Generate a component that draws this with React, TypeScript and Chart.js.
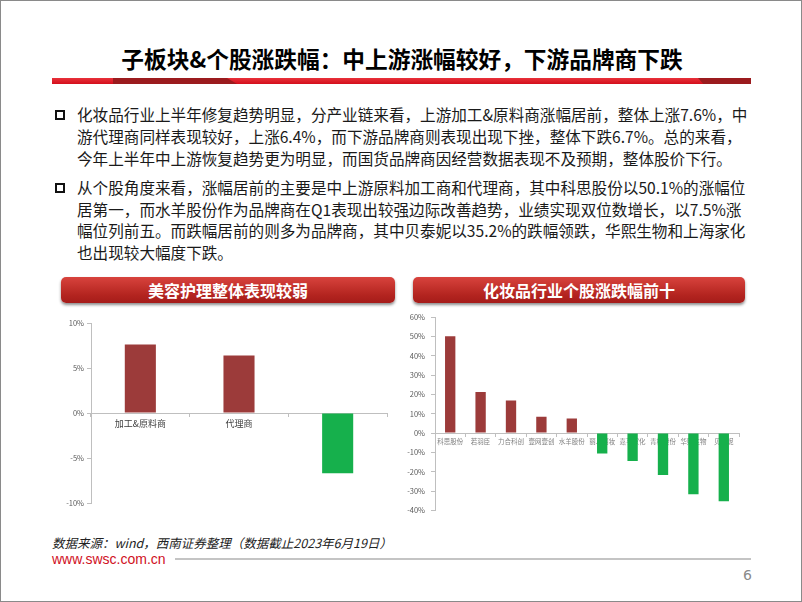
import React, { useEffect, useRef } from "react";
import { Chart, registerables } from "chart.js";

Chart.register(...registerables);

// ---- Data ----
const sectorLabels = ["加工&原料商", "代理商", "品牌商"];
const sectorValues = [7.6, 6.4, -6.7];

const stockLabels = [
  "科思股份",
  "若羽臣",
  "力合科创",
  "壹网壹创",
  "水羊股份",
  "丽人丽妆",
  "嘉亨家化",
  "青松股份",
  "华熙生物",
  "贝泰妮",
];
const stockValues = [50.1, 21.3, 16.8, 8.4, 7.5, -10.5, -14.4, -21.6, -31.6, -35.2];

const sectorTickRange = { min: -10, max: 10, step: 5 };
const stockTickRange = { min: -40, max: 60, step: 10 };

const para1Lines = [
  "化妆品行业上半年修复趋势明显，分产业链来看，上游加工&原料商涨幅居前，整体上涨7.6%，中",
  "游代理商同样表现较好，上涨6.4%，而下游品牌商则表现出现下挫，整体下跌6.7%。总的来看，",
  "今年上半年中上游恢复趋势更为明显，而国货品牌商因经营数据表现不及预期，整体股价下行。",
];
const para2Lines = [
  "从个股角度来看，涨幅居前的主要是中上游原料加工商和代理商，其中科思股份以50.1%的涨幅位",
  "居第一，而水羊股份作为品牌商在Q1表现出较强边际改善趋势，业绩实现双位数增长，以7.5%涨",
  "幅位列前五。而跌幅居前的则多为品牌商，其中贝泰妮以35.2%的跌幅领跌，华熙生物和上海家化",
  "也出现较大幅度下跌。",
];

const RED = "#9c3b3a";
const GREEN = "#16b04c";
const AXIS = "#bfbfbf";
const FONT = "'Noto Sans CJK SC', 'Noto Sans', sans-serif";

function makeConfig(
  labels: string[],
  values: number[],
  range: { min: number; max: number; step: number },
  opts: {
    barPct: number;
    padding: { top: number; bottom: number; left: number; right: number };
    yWidth: number;
    xFont: number;
    xColor: string;
    xZ: number;
    xPad: number;
    yPad: number;
  }
): any {
  return {
    type: "bar",
    data: {
      labels,
      datasets: [
        {
          data: values,
          backgroundColor: values.map((v) => (v >= 0 ? RED : GREEN)),
          barPercentage: opts.barPct,
          categoryPercentage: 1,
        },
      ],
    },
    options: {
      animation: false,
      responsive: false,
      maintainAspectRatio: false,
      devicePixelRatio: 1,
      layout: { padding: opts.padding },
      plugins: { legend: { display: false }, tooltip: { enabled: false } },
      scales: {
        x: {
          position: { y: 0 },
          z: opts.xZ,
          offset: true,
          grid: {
            display: true,
            offset: true,
            drawOnChartArea: false,
            drawTicks: true,
            tickLength: 3,
            color: AXIS,
          },
          border: { color: AXIS, width: 1 },
          ticks: {
            color: opts.xColor,
            font: { size: opts.xFont, family: FONT },
            padding: opts.xPad,
            maxRotation: 0,
            minRotation: 0,
            autoSkip: false,
          },
        },
        y: {
          min: range.min,
          max: range.max,
          afterFit: (s: any) => {
            s.width = opts.yWidth;
          },
          grid: {
            display: true,
            drawOnChartArea: false,
            drawTicks: true,
            tickLength: 4,
            color: AXIS,
          },
          border: { color: AXIS, width: 1 },
          ticks: {
            stepSize: range.step,
            color: "#595959",
            font: { size: 7.5, family: FONT },
            padding: opts.yPad,
            callback: (v: any) => `${v}%`,
          },
        },
      },
    },
  };
}

function BarChart(props: {
  config: any;
  left: number;
  top: number;
  width: number;
  height: number;
}) {
  const ref = useRef<HTMLCanvasElement | null>(null);
  useEffect(() => {
    if (!ref.current) return;
    const chart = new Chart(ref.current, props.config);
    return () => chart.destroy();
  }, []);
  return (
    <canvas
      ref={ref}
      width={props.width}
      height={props.height}
      style={{
        position: "absolute",
        left: props.left,
        top: props.top,
        width: props.width,
        height: props.height,
      }}
    />
  );
}

function Banner(props: { left: number; width: number; text: string }) {
  return (
    <div
      style={{
        position: "absolute",
        left: props.left,
        top: 276,
        width: props.width,
        height: 26,
        borderRadius: 5,
        background: "linear-gradient(#d8433d, #b3241f 70%, #a51c1a)",
        boxShadow: "0 2px 3px rgba(0,0,0,0.45)",
        color: "#fff",
        fontFamily: FONT,
        fontWeight: 700,
        fontSize: 16,
        lineHeight: "26px",
        textAlign: "center",
        whiteSpace: "nowrap",
      }}
    >
      {props.text}
    </div>
  );
}

function Bullet(props: { top: number }) {
  return (
    <div
      style={{
        position: "absolute",
        left: 54,
        top: props.top,
        width: 6,
        height: 6,
        border: "2px solid #111",
      }}
    />
  );
}

export default function App() {
  const leftConfig = makeConfig(sectorLabels, sectorValues, sectorTickRange, {
    barPct: 0.315,
    padding: { top: 12, bottom: 8, left: 0, right: 9 },
    yWidth: 40,
    xFont: 9,
    xColor: "#404040",
    xZ: 1,
    xPad: 2,
    yPad: 3,
  });
  const rightConfig = makeConfig(stockLabels, stockValues, stockTickRange, {
    barPct: 0.34,
    padding: { top: 12, bottom: 10, left: 0, right: 10 },
    yWidth: 38,
    xFont: 6.5,
    xColor: "#7f7f7f",
    xZ: 0,
    xPad: 2,
    yPad: 6,
  });

  const textLine = (t: string, top: number) => (
    <div
      key={t}
      style={{
        position: "absolute",
        left: 76,
        top: top - 11,
        height: 22,
        lineHeight: "22px",
        fontSize: 15.6,
        fontFamily: FONT,
        color: "#1a1a1a",
        whiteSpace: "nowrap",
      }}
    >
      {t}
    </div>
  );

  return (
    <div
      style={{
        position: "fixed",
        left: 0,
        top: 0,
        width: 802,
        height: 602,
        boxSizing: "border-box",
        border: "1px solid #8a8a8a",
        background: "#fff",
        overflow: "hidden",
      }}
    >
      {/* Title */}
      <div
        style={{
          position: "absolute",
          left: 0,
          width: 802,
          top: 44,
          height: 28,
          lineHeight: "28px",
          textAlign: "center",
          fontFamily: FONT,
          fontWeight: 700,
          fontSize: 22.7,
          color: "#000",
          whiteSpace: "nowrap",
        }}
      >
        子板块&个股涨跌幅：中上游涨幅较好，下游品牌商下跌
      </div>
      {/* Red rule */}
      <div
        style={{
          position: "absolute",
          left: 51,
          top: 77,
          width: 699,
          height: 6,
          background: "linear-gradient(#e8313a, #d30e1c)",
        }}
      />
      <div
        style={{
          position: "absolute",
          left: 112,
          top: 77,
          width: 124,
          height: 6,
          background: "#9b1b1e",
          clipPath: "polygon(0 0, 92% 0, 100% 100%, 0 100%)",
        }}
      />
      <div
        style={{
          position: "absolute",
          left: 697,
          top: 77,
          width: 53,
          height: 6,
          background: "#9b1b1e",
          clipPath: "polygon(0 0, 100% 0, 100% 100%, 10% 100%)",
        }}
      />

      {/* Body text */}
      <Bullet top={109} />
      {para1Lines.map((t, i) => textLine(t, 113 + i * 22))}
      <Bullet top={182} />
      {para2Lines.map((t, i) => textLine(t, 186 + i * 21.7))}

      {/* Banners */}
      <Banner left={60} width={334} text="美容护理整体表现较弱" />
      <Banner left={412} width={332} text="化妆品行业个股涨跌幅前十" />

      {/* Charts */}
      <BarChart config={leftConfig} left={50} top={310} width={345} height={200} />
      <BarChart config={rightConfig} left={396} top={304} width={352} height={216} />

      {/* Footer */}
      <div
        style={{
          position: "absolute",
          left: 51,
          top: 533,
          height: 18,
          lineHeight: "18px",
          fontSize: 12.5,
          fontStyle: "italic",
          fontFamily: FONT,
          color: "#222",
          whiteSpace: "nowrap",
        }}
      >
        数据来源：wind，西南证券整理（数据截止2023年6月19日）
      </div>
      <div
        style={{
          position: "absolute",
          left: 51,
          top: 550,
          height: 17,
          lineHeight: "17px",
          fontSize: 14,
          fontFamily: "'Liberation Sans', Arial, sans-serif",
          color: "#d0101e",
          whiteSpace: "nowrap",
        }}
      >
        www.swsc.com.cn
      </div>
      <div
        style={{
          position: "absolute",
          left: 174,
          top: 557,
          width: 576,
          height: 2,
          background: "#c4c4c4",
        }}
      />
      <div
        style={{
          position: "absolute",
          left: 742,
          top: 566,
          height: 17,
          lineHeight: "17px",
          fontSize: 14,
          fontFamily: "'DejaVu Sans', sans-serif",
          color: "#8a8a8a",
        }}
      >
        6
      </div>
    </div>
  );
}
